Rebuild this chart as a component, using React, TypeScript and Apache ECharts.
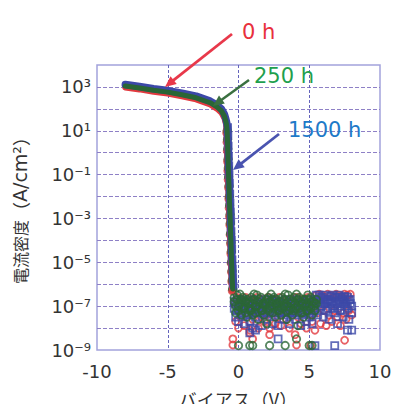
import React, { useEffect, useRef } from "react";
import * as echarts from "echarts";

// ---- data ----
const xTicks = [-10, -5, 0, 5, 10];
const yTickLabels: Record<number, string> = {
  3: "10³", 1: "10¹", [-1]: "10⁻¹", [-3]: "10⁻³", [-5]: "10⁻⁵", [-7]: "10⁻⁷", [-9]: "10⁻⁹",
};

// forward-bias part (line)
const fwd0h = [[-8, 950], [-7, 770], [-6, 600], [-5, 500], [-4, 375], [-3, 270], [-2, 160], [-1.5, 100], [-1.2, 66], [-1, 38], [-0.9, 22], [-0.85, 15]];
const fwd250h = [[-8, 1100], [-7, 900], [-6, 700], [-5, 580], [-4, 440], [-3, 320], [-2, 190], [-1.5, 120], [-1.2, 80], [-1, 47], [-0.9, 28], [-0.85, 20]];
const fwd1500h = [[-8, 1280], [-7, 1050], [-6, 820], [-5, 680], [-4, 520], [-3, 380], [-2, 225], [-1.5, 145], [-1.2, 97], [-1, 58], [-0.9, 35], [-0.85, 26]];

// steep drop
const drop0h = [[-0.84, 8], [-0.82, 3], [-0.8, 1.2], [-0.78, 0.4], [-0.76, 0.15], [-0.74, 0.06], [-0.71, 0.025], [-0.69, 8e-3], [-0.67, 3e-3], [-0.64, 1.2e-3], [-0.62, 5e-4], [-0.6, 1.8e-4], [-0.57, 7e-5], [-0.55, 2.5e-5], [-0.53, 9e-6], [-0.5, 3.5e-6], [-0.48, 1.3e-6], [-0.45, 5e-7]];
const drop250h = [[-0.8, 10], [-0.78, 4], [-0.76, 1.5], [-0.74, 0.5], [-0.72, 0.2], [-0.7, 0.08], [-0.67, 0.03], [-0.65, 0.01], [-0.63, 4e-3], [-0.6, 1.5e-3], [-0.58, 6e-4], [-0.56, 2e-4], [-0.53, 8e-5], [-0.51, 3e-5], [-0.49, 1e-5], [-0.46, 4e-6], [-0.44, 1.5e-6], [-0.41, 6e-7]];
const drop1500h = [[-0.77, 14], [-0.75, 6], [-0.73, 2], [-0.71, 0.7], [-0.69, 0.25], [-0.67, 0.1], [-0.64, 0.04], [-0.62, 0.013], [-0.6, 5e-3], [-0.57, 2e-3], [-0.55, 8e-4], [-0.53, 2.5e-4], [-0.5, 1e-4], [-0.48, 4e-5], [-0.46, 1.3e-5], [-0.43, 5e-6], [-0.41, 2e-6], [-0.38, 8e-7]];

// reverse-bias noise floor
const noiseBias = [
  -0.3, -0.2, -0.1, 0, 0.1, 0.2, 0.3, 0.4, 0.5, 0.6, 0.7, 0.8, 0.9, 1.0, 1.1, 1.2, 1.3, 1.4, 1.5, 1.6,
  1.7, 1.8, 1.9, 2.0, 2.1, 2.2, 2.3, 2.4, 2.5, 2.6, 2.7, 2.8, 2.9, 3.0, 3.1, 3.2, 3.3, 3.4, 3.5, 3.6,
  3.7, 3.8, 3.9, 4.0, 4.1, 4.2, 4.3, 4.4, 4.5, 4.6, 4.7, 4.8, 4.9, 5.0, 5.1, 5.2, 5.3, 5.4, 5.5, 5.6,
  5.7, 5.8, 5.9, 6.0, 6.1, 6.2, 6.3, 6.4, 6.5, 6.6, 6.7, 6.8, 6.9, 7.0, 7.1, 7.2, 7.3, 7.4, 7.5, 7.6,
  7.7, 7.8, 7.9, 8.0,
];
const noise0h = [
  1.3e-7, 2e-8, 2.5e-7, 1e-8, 2e-7, 3.2e-8, 1.6e-7, 1.3e-8, 2.5e-7, 5e-8, 1e-7, 8e-9, 2e-7, 2.5e-8, 1.6e-7, 6.3e-8, 2.5e-7, 1e-8, 1.3e-7, 3.2e-8,
  2e-7, 2e-8, 1e-7, 4e-8, 2.5e-7, 1e-8, 1.6e-7, 5e-8, 2e-7, 1.6e-8, 1.3e-7, 3.2e-8, 2.5e-7, 1.3e-8, 1.6e-7, 5e-8, 2e-7, 2.5e-8, 1.3e-7, 1e-8,
  2e-7, 4e-8, 1.6e-7, 5e-9, 2.5e-7, 3.2e-8, 1.3e-7, 1.6e-8, 2e-7, 5e-8, 1.6e-7, 1e-8, 2.5e-7, 4e-8, 1.3e-7, 2e-8, 2e-7, 8e-9, 3.2e-7, 5e-8,
  3.5e-7, 1.6e-8, 3.2e-7, 6.3e-8, 2.5e-7, 1.3e-8, 3.5e-7, 4e-8, 3.2e-7, 2e-8, 2.5e-7, 6.3e-8, 3.5e-7, 3.2e-8, 3.2e-7, 1.3e-8, 2.5e-7, 5e-8, 3.5e-7, 2.5e-8,
  3.2e-7, 6.3e-8, 3.5e-7, 4e-8,
];
// 250 h sweep ends at +5.5 V
const noise250h = [
  2.5e-7, 5e-8, 3.2e-7, 1e-7, 3.5e-7, 4e-8, 2.5e-7, 8e-8, 1.6e-7, 3.2e-8,
  1.3e-7, 6.3e-8, 2.5e-7, 4e-8, 3.5e-7, 1e-7, 3.2e-7, 2.5e-8, 2e-7, 6.3e-8,
  1.3e-7, 4e-8, 1.6e-7, 1.6e-8, 2.5e-7, 8e-8, 3.5e-7, 5e-8, 2.5e-7, 3.2e-8,
  1.3e-7, 6.3e-8, 1.6e-7, 4e-8, 2.5e-7, 1e-7, 3.5e-7, 2.5e-8, 3.2e-7, 6.3e-8,
  1.3e-7, 4e-8, 2.5e-7, 8e-8, 3.5e-7, 1.3e-8, 2.5e-7, 5e-8, 1.3e-7, 3.2e-8,
  2e-7, 6.3e-8, 3.2e-7, 1e-7, 2.5e-7, 4e-8, 1.6e-7, 6.3e-8, 1.3e-7,
];
const noise250hB = [
  1.6e-7, 1e-7, 2e-7, 6.3e-8, 1.3e-7, 2e-7, 8e-8, 1.6e-7, 5e-8, 2e-7,
  8e-8, 1.6e-7, 6.3e-8, 1.3e-7, 2e-7, 5e-8, 1e-7, 1.6e-7, 8e-8, 2.5e-7,
  6.3e-8, 1.3e-7, 1e-7, 2e-7, 6.3e-8, 1.6e-7, 1e-7, 2e-7, 8e-8, 1.3e-7,
  2e-7, 1e-7, 6.3e-8, 1.6e-7, 8e-8, 2e-7, 1.3e-7, 6.3e-8, 1e-7, 2e-7,
  8e-8, 1.6e-7, 6.3e-8, 1.3e-7, 1e-7, 2e-7, 8e-8, 1.6e-7, 5e-8, 2e-7,
  1e-7, 1.3e-7, 6.3e-8, 2e-7, 8e-8, 1.6e-7, 1e-7, 1.3e-7, 2e-7,
];
const noise1500h = [
  1.6e-7, 3.2e-8, 2e-7, 2e-8, 1.3e-7, 5e-8, 2e-7, 1.6e-8, 1e-7, 4e-8, 1.6e-7, 2e-8, 1e-7, 1e-8, 2e-7, 3.2e-8, 1.3e-7, 5e-8, 1.6e-7, 1.3e-8,
  1e-7, 4e-8, 2e-7, 2.5e-8, 1.3e-7, 5e-8, 2e-7, 1.6e-8, 1.6e-7, 4e-8, 1e-7, 1.3e-8, 1.6e-7, 5e-8, 1.3e-7, 2.5e-8, 2e-7, 4e-8, 1e-7, 1.6e-8,
  1.6e-7, 5e-8, 1.3e-7, 2.5e-8, 2e-7, 4e-8, 1e-7, 1.3e-8, 1.6e-7, 5e-8, 1.3e-7, 2e-8, 2e-7, 3.2e-8, 1.3e-7, 1.6e-8, 1.6e-7, 6.3e-8, 3.2e-7, 4e-8,
  3.2e-7, 1e-7, 2.5e-7, 3.2e-8, 3.2e-7, 6.3e-8, 2e-7, 2.5e-8, 2.8e-7, 8e-8, 3.2e-7, 5e-8, 2.5e-7, 1.6e-8, 3.2e-7, 6.3e-8, 2.5e-7, 3.2e-8, 2.8e-7, 1e-7,
  2.5e-7, 2.5e-8, 2e-7, 5e-8,
];
const noise1500hB = [
  8e-8, 1.3e-7, 6.3e-8, 1e-7, 5e-8, 1.6e-7, 8e-8, 1e-7, 6.3e-8, 1.3e-7,
  5e-8, 1e-7, 8e-8, 6.3e-8, 1.3e-7, 5e-8, 1e-7, 8e-8, 6.3e-8, 1.3e-7,
  8e-8, 5e-8, 1e-7, 1.3e-7, 6.3e-8, 8e-8, 1e-7, 5e-8, 1.3e-7, 8e-8,
  6.3e-8, 1e-7, 5e-8, 1.3e-7, 8e-8, 6.3e-8, 1e-7, 1.3e-7, 5e-8, 8e-8,
  1e-7, 6.3e-8, 1.3e-7, 8e-8, 5e-8, 1e-7, 1.3e-7, 6.3e-8, 8e-8, 1e-7,
  5e-8, 1.3e-7, 8e-8, 6.3e-8, 1e-7, 1.3e-7, 5e-8, 8e-8,
  2e-7, 1.3e-7, 1.6e-7, 2.5e-7, 1e-7, 2e-7, 1.3e-7, 1.6e-7, 8e-8, 2e-7,
  1.3e-7, 1.6e-7, 1e-7, 2.5e-7, 1.3e-7, 8e-8, 2e-7, 1.6e-7, 1e-7, 2e-7,
  1.3e-7, 1.6e-7, 8e-8, 2e-7, 1.3e-7, 1e-7,
];

// sparse low readings
const low0h = [[-0.4, 3.2e-9], [-0.4, 1.7e-9], [1.0, 3.2e-9], [0.8, 6e-9], [4.1, 1.7e-9], [7.5, 2.8e-9], [2.2, 5e-9], [5.1, 1.6e-9]];
const low250h = [[0, 1.6e-9], [0.8, 1.6e-9], [1.0, 1.6e-9], [2.2, 1.6e-9], [3.3, 1.6e-9], [4.1, 3.2e-9], [5.0, 1.6e-9], [5.2, 1.6e-9]];
const low1500h = [[0.8, 6e-9], [1.2, 8e-9], [2.8, 3.2e-9], [5.4, 1.6e-9], [6.8, 1.6e-9], [7.7, 8e-9], [8.0, 8e-9]];

const pairs = (xs: number[], ys: number[]) => ys.map((y, i) => [xs[i], y]);

const RED = "#e23a3f";
const GREEN = "#2a6636";
const BLUE = "#3c48a8";

function arrow(x1: number, y1: number, x2: number, y2: number, color: string, w: number) {
  const dx = x2 - x1, dy = y2 - y1;
  const L = Math.hypot(dx, dy);
  const ux = dx / L, uy = dy / L;
  const hl = 11, hw = 5;
  const bx = x2 - ux * hl, by = y2 - uy * hl;
  return [
    { type: "line", z: 100, shape: { x1, y1, x2: bx + ux * 2, y2: by + uy * 2 }, style: { stroke: color, lineWidth: w } },
    {
      type: "polygon", z: 100,
      shape: { points: [[x2, y2], [bx - uy * hw, by + ux * hw], [bx + uy * hw, by - ux * hw]] },
      style: { fill: color },
    },
  ];
}

export default function App() {
  const ref = useRef<HTMLDivElement>(null);
  useEffect(() => {
    if (!ref.current) return;
    const chart = echarts.init(ref.current, undefined, { renderer: "svg" });
    const lineSeries = (data: number[][], color: string, width: number) => ({
      type: "line",
      data,
      showSymbol: false,
      lineStyle: { color, width, cap: "round", join: "round" },
      itemStyle: { color },
      silent: true,
    });
    const scatterSeries = (data: number[][], color: string, symbol: string, size: number) => ({
      type: "scatter",
      data,
      symbol,
      symbolSize: size,
      itemStyle: { color: "rgba(0,0,0,0)", borderColor: color, borderWidth: 1.8 },
      silent: true,
    });
    chart.setOption({
      animation: false,
      backgroundColor: "#ffffff",
      grid: { left: 97, right: 26, top: 65, bottom: 54, show: true, borderColor: "#a2a2dc", borderWidth: 1.5 },
      xAxis: {
        type: "value",
        min: -10,
        max: 10,
        interval: 5,
        axisLine: { show: false },
        axisTick: { show: false },
        axisLabel: {
          margin: 12,
          fontFamily: "DejaVu Sans",
          fontSize: 18,
          color: "#333",
          formatter: (v: number) => (xTicks.includes(v) ? String(v) : ""),
        },
        splitLine: { show: true, showMinLine: false, showMaxLine: false, lineStyle: { color: "#6464bc", type: [3, 2], width: 1 } },
      },
      yAxis: {
        type: "log",
        logBase: 10,
        min: 1e-9,
        max: 1e4,
        interval: 1,
        axisLine: { show: false },
        axisTick: { show: false },
        axisLabel: {
          margin: 6,
          fontFamily: "DejaVu Sans",
          fontSize: 18,
          color: "#333",
          formatter: (v: number) => {
            const e = Math.round(Math.log10(v));
            return yTickLabels[e] ?? "";
          },
        },
        splitLine: { show: true, showMinLine: false, showMaxLine: false, lineStyle: { color: "#8e80c6", type: [4, 2], width: 1 } },
      },
      series: [
        lineSeries(fwd0h.concat(drop0h), RED, 6),
        lineSeries(fwd1500h.concat(drop1500h), BLUE, 7.5),
        lineSeries(fwd250h.concat(drop250h), GREEN, 5),
        scatterSeries(drop0h.concat(pairs(noiseBias, noise0h), low0h), RED, "circle", 7),
        scatterSeries(drop1500h.concat(pairs(noiseBias, noise1500h), pairs(noiseBias, noise1500hB), low1500h), BLUE, "rect", 7),
        scatterSeries(drop250h.concat(pairs(noiseBias, noise250h), pairs(noiseBias, noise250hB), low250h), GREEN, "circle", 7.5),
      ],
      graphic: [
        ...arrow(232, 34, 165, 87, "#e8384a", 2.8),
        ...arrow(249, 80, 213, 106, "#3a7040", 2.5),
        ...arrow(279, 134, 233, 170, "#4a54b0", 2.8),
        { type: "text", z: 100, x: 242, y: 32, style: { text: "0 h", fill: "#e8303c", fontSize: 21, fontFamily: "DejaVu Sans", verticalAlign: "middle" } },
        { type: "text", z: 100, x: 254, y: 76, style: { text: "250 h", fill: "#1f9f4e", fontSize: 21, fontFamily: "DejaVu Sans", verticalAlign: "middle" } },
        { type: "text", z: 100, x: 288, y: 130, style: { text: "1500 h", fill: "#1e7ac8", fontSize: 21, fontFamily: "DejaVu Sans", verticalAlign: "middle" } },
        {
          type: "text", z: 100, x: 20, y: 206, rotation: Math.PI / 2,
          style: {
            text: "{k|電流密度}{p|（}{l|A/cm²}{p|）}",
            align: "center", verticalAlign: "middle", fill: "#333",
            rich: {
              k: { fontFamily: "Noto Sans CJK JP", fontSize: 16, fill: "#333" },
              p: { fontFamily: "Noto Sans CJK JP", fontSize: 18, fill: "#333" },
              l: { fontFamily: "DejaVu Sans", fontSize: 19, fill: "#333" },
            },
          },
        },
        {
          type: "text", z: 100, x: 238, y: 399,
          style: { text: "バイアス（V）", align: "center", verticalAlign: "middle", fill: "#333", fontSize: 18, fontFamily: "Noto Sans CJK JP" },
        },
      ],
    });
    return () => chart.dispose();
  }, []);
  return <div ref={ref} style={{ position: "absolute", left: 0, top: 0, width: 406, height: 404 }} />;
}
